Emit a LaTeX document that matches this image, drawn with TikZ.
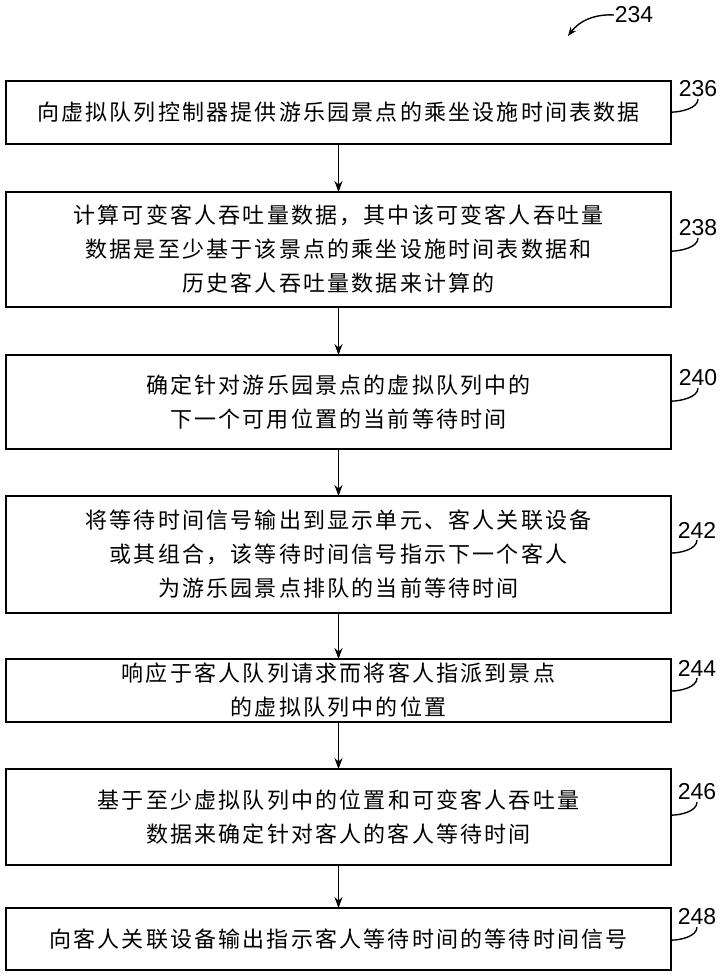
\documentclass[tikz,border=0pt]{standalone}
\usepackage{fontspec}
\setsansfont{Liberation Sans}
\newfontfamily\cjk{Noto Sans CJK SC}[LetterSpace=10]
\usetikzlibrary{calc}
\usetikzlibrary{arrows.meta}
\tikzset{every node/.style={inner sep=0pt, outer sep=0pt}}
\tikzset{stepbox/.style={draw=black, line width=2.2pt, minimum width=665pt, align=center, font=\cjk\fontsize{22}{34}\selectfont}}
\tikzset{refnum/.style={inner sep=1pt, font=\sffamily\fontsize{23}{23}\selectfont}}
\tikzset{leader/.style={line width=1.4pt}}
\tikzset{flow/.style={line width=1.6pt, -{Stealth[length=11pt,width=8pt]}}}

\begin{document}
\begin{tikzpicture}[x=1pt,y=-1pt]
    \useasboundingbox (0,0) rectangle (720,978);

    % steps of the flow
    \node[stepbox,minimum height=63pt] (Box236) at (338.5,112.5) {向虚拟队列控制器提供游乐园景点的乘坐设施时间表数据};
    \node[stepbox,minimum height=115pt] (Box238) at (338.5,249.5) {计算可变客人吞吐量数据，其中该可变客人吞吐量\\数据是至少基于该景点的乘坐设施时间表数据和\\历史客人吞吐量数据来计算的};
    \node[stepbox,minimum height=94pt] (Box240) at (338.5,402) {确定针对游乐园景点的虚拟队列中的\\下一个可用位置的当前等待时间};
    \node[stepbox,minimum height=117pt] (Box242) at (338.5,554.5) {将等待时间信号输出到显示单元、客人关联设备\\或其组合，该等待时间信号指示下一个客人\\为游乐园景点排队的当前等待时间};
    \node[stepbox,minimum height=63pt] (Box244) at (338.5,690.5) {响应于客人队列请求而将客人指派到景点\\的虚拟队列中的位置};
    \node[stepbox,minimum height=96pt] (Box246) at (338.5,817) {基于至少虚拟队列中的位置和可变客人吞吐量\\数据来确定针对客人的客人等待时间};
    \node[stepbox,minimum height=62pt] (Box248) at (338.5,939) {向客人关联设备输出指示客人等待时间的等待时间信号};

    \foreach \a/\b in {236/238,238/240,240/242,242/244,244/246,246/248}
        \draw[flow] (Box\a) -- (Box\b);

    % reference numbers
    \node[refnum] (Fig234) at (634,15) {234};
    \coordinate (Fig234Tip) at (568,36);
    \draw[line width=1.4pt,-{Stealth[length=9pt,width=7pt]}] (Fig234.west) .. controls (596,14) and (580,20) .. (Fig234Tip);

    \node[refnum] (L236) at (698,89) {236};
    \node[refnum] (L238) at (698,228) {238};
    \node[refnum] (L240) at (698,378) {240};
    \node[refnum] (L242) at (697,530) {242};
    \node[refnum] (L244) at (697,668) {244};
    \node[refnum] (L246) at (697,792) {246};
    \node[refnum] (L248) at (697,917) {248};

    \foreach \n in {236,238,240,242,244,246,248}
        \draw[leader] ([yshift=-1pt]L\n.south) .. controls +(0,9) and +(10,0) .. ($(Box\n.east |- L\n.south)+(0,14)$);

\end{tikzpicture}
\end{document}
